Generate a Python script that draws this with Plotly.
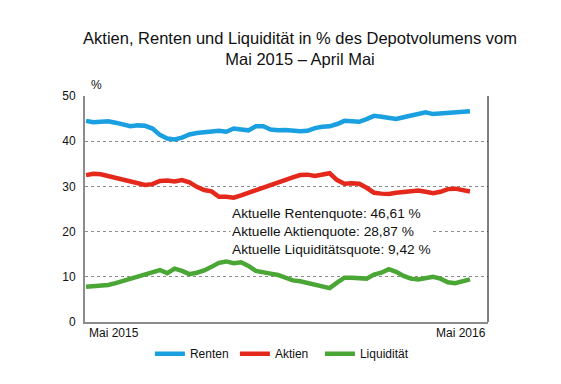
import plotly.graph_objects as go

weeks = list(range(53))
x_labels = ["Mai 2015", "Mai 2016"]
y_ticks = [0, 10, 20, 30, 40, 50]

renten = [44.5, 44.2, 44.3, 44.4, 44.1, 43.6, 43.3, 43.5, 43.4, 42.8,
          41.4, 40.6, 40.4, 40.8, 41.5, 41.8, 42.0, 42.2, 42.3, 42.1,
          42.8, 42.6, 42.4, 43.3, 43.3, 42.6, 42.4, 42.5, 42.3, 42.2,
          42.3, 42.9, 43.2, 43.3, 43.8, 44.5, 44.4, 44.3, 44.9, 45.6,
          45.4, 45.1, 44.9, 45.3, 45.7, 46.1, 46.4, 46.0, 46.1, 46.2,
          46.3, 46.3, 46.61]
aktien = [32.5, 32.8, 32.7, 32.3, 32.0, 31.4, 31.0, 30.7, 30.3, 30.5,
          31.2, 31.3, 31.1, 31.4, 30.9, 29.9, 29.2, 28.9, 27.7, 27.7,
          27.5, 28.0, 28.6, 29.0, 29.6, 30.4, 30.9, 31.5, 32.0, 32.5,
          32.6, 32.3, 32.7, 32.9, 31.4, 30.6, 30.7, 30.6, 29.7, 28.6,
          28.4, 28.3, 28.6, 28.8, 29.0, 29.1, 28.8, 28.5, 28.8, 29.4,
          29.5, 29.1, 28.87]
liquiditaet = [7.8, 7.9, 8.0, 8.2, 8.6, 9.1, 9.7, 10.2, 10.5, 11.2,
               11.5, 10.8, 11.8, 11.3, 10.6, 10.9, 11.4, 12.2, 13.1, 13.4,
               13.0, 13.2, 12.4, 11.3, 10.9, 10.7, 10.4, 9.7, 9.2, 9.0,
               8.6, 8.2, 7.9, 7.5, 8.7, 9.8, 9.8, 9.8, 9.6, 10.5,
               10.9, 11.7, 11.1, 10.2, 9.6, 9.4, 9.6, 10.0, 9.6, 8.8,
               8.6, 8.9, 9.42]

series = [("Renten", renten, "#1a9fe0", "legend", 0.161),
          ("Aktien", aktien, "#e5281c", "legend2", 0.372),
          ("Liquidität", liquiditaet, "#4aa635", "legend3", 0.583)]

font = "Liberation Sans"
fig = go.Figure()
for name, vals, col, leg, _ in series:
    fig.add_trace(go.Scatter(x=weeks, y=vals, mode="lines", name=name, legend=leg,
                             line=dict(color=col, width=4.5)))

W, H = 553, 376
fig.update_layout(
    width=W, height=H,
    margin=dict(l=77, r=73, t=88, b=62),
    paper_bgcolor="white", plot_bgcolor="white",
    font=dict(family=font, size=12, color="#111"),
    title=dict(text="Aktien, Renten und Liquidität in % des Depotvolumens vom<br>Mai 2015 – April Mai",
               x=292/W, xanchor="center", y=1 - 36/H, yanchor="top",
               font=dict(size=16.5, color="#111")),
    showlegend=True,
    xaxis=dict(range=[-0.14, 54.44], showticklabels=False, showgrid=False,
               zeroline=False, showline=True, linecolor="#8c8c8c", linewidth=2, ticks=""),
    yaxis=dict(range=[0, 50], tickvals=y_ticks, showgrid=True, gridcolor="#8c8c8c",
               griddash="3px,3px", gridwidth=1, zeroline=False, showline=True,
               linecolor="#8c8c8c", linewidth=2, ticks="", ticklabelstandoff=5,
               tickfont=dict(size=12)),
)
for name, vals, col, leg, lx in series:
    fig.update_layout({leg: dict(orientation="h", x=lx, xanchor="left", y=-0.14,
                                 yanchor="middle", font=dict(size=12),
                                 bgcolor="rgba(0,0,0,0)")})

fig.add_shape(type="line", xref="paper", yref="paper", x0=1, x1=1, y0=0, y1=1,
              line=dict(color="black", width=1))

fig.add_annotation(xref="paper", yref="paper", x=0.005, y=0, xanchor="left", yanchor="top",
                   yshift=-2, text=x_labels[0], showarrow=False, font=dict(size=12))
fig.add_annotation(xref="paper", yref="paper", x=1, y=0, xanchor="right", yanchor="top",
                   yshift=-2, text=x_labels[1], showarrow=False, font=dict(size=12))
fig.add_annotation(xref="paper", yref="paper", x=0.01, y=1, xanchor="left", yanchor="bottom",
                   yshift=2, text="%", showarrow=False, font=dict(size=12))

fig.add_annotation(xref="x", yref="y", x=19.5, y=20.1, xanchor="left", yanchor="middle",
                   align="left", showarrow=False, bgcolor="white", borderpad=1,
                   text=f"Aktuelle Rentenquote: {renten[-1]:.2f} %".replace(".", ",")
                        + "<br>" + f"Aktuelle Aktienquote: {aktien[-1]:.2f} %".replace(".", ",")
                        + "<br>" + f"Aktuelle Liquiditätsquote: {liquiditaet[-1]:.2f} %".replace(".", ","),
                   font=dict(size=13.7, color="#111"))

fig.write_html("out.html")
